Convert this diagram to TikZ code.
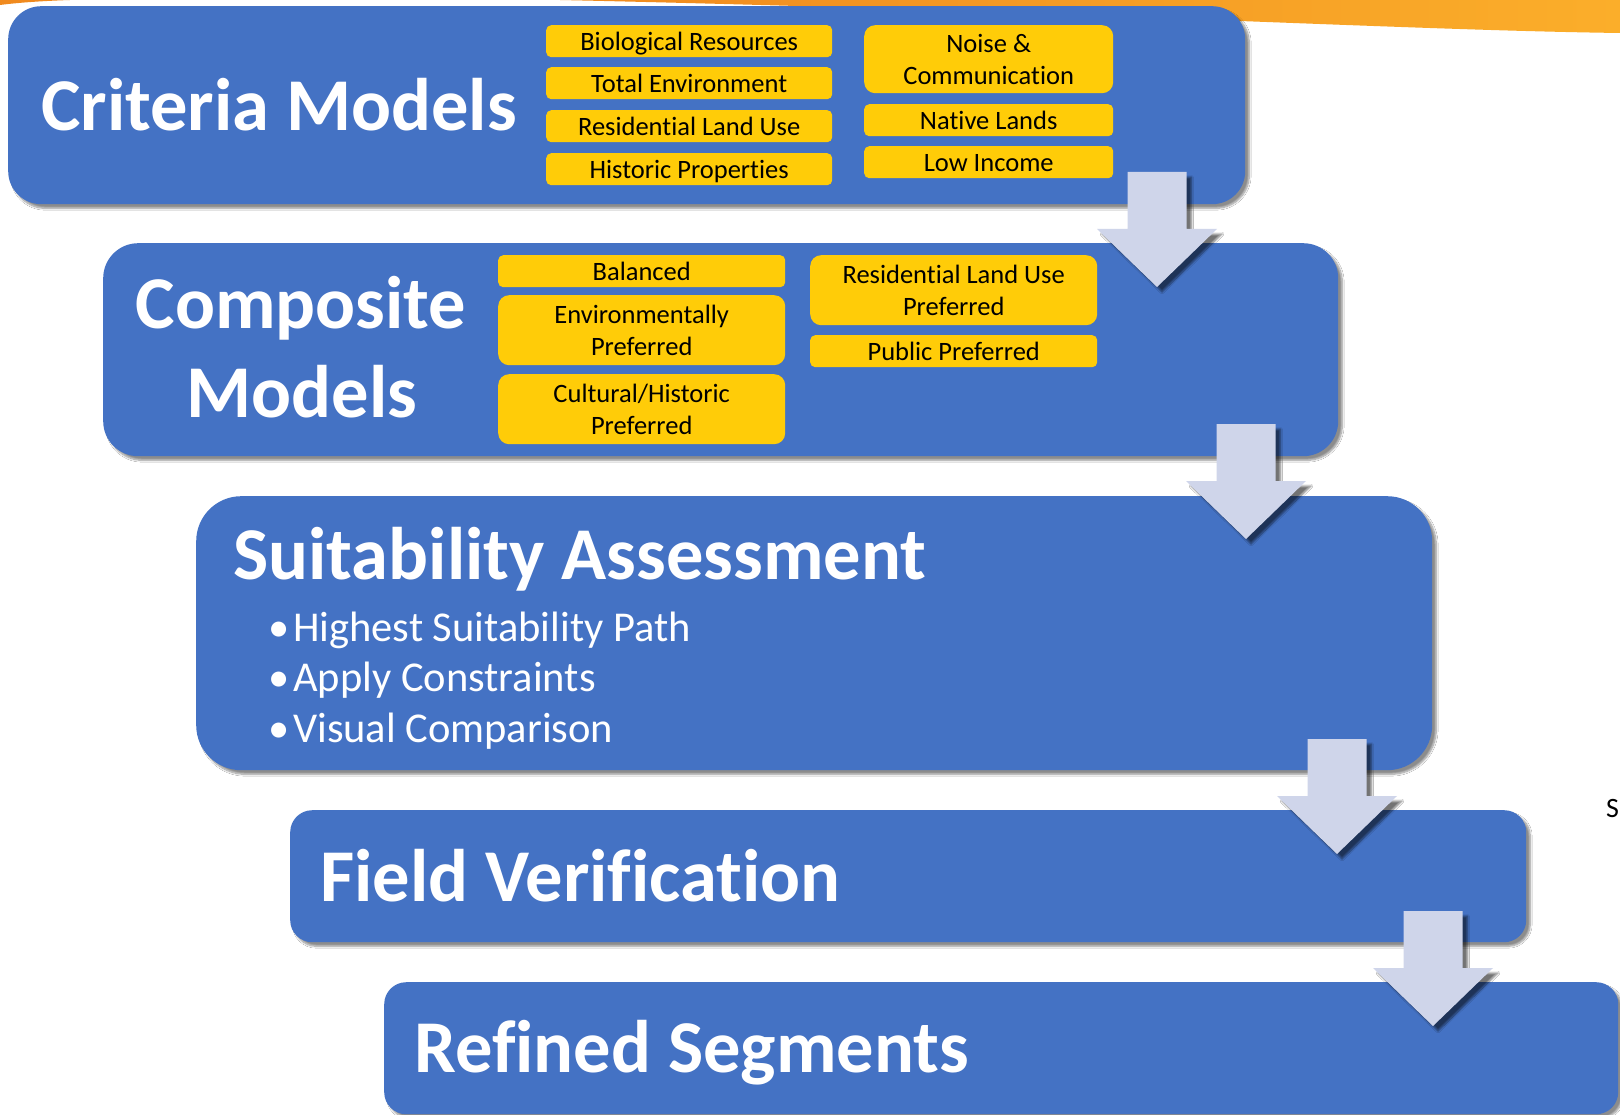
\documentclass[tikz,border=0pt]{standalone}
\usepackage{fontspec}
\setmainfont[Ligatures=NoCommon]{Carlito}
\usetikzlibrary{shadows.blur}
\definecolor{boxblue}{HTML}{4472C4}
\definecolor{yfill}{HTML}{FFCC08}
\definecolor{arrowfill}{HTML}{CFD5EA}
\definecolor{orA}{HTML}{F08A1E}
\definecolor{orB}{HTML}{FBAE2A}
\begin{document}
\begin{tikzpicture}[x=1pt,y=-1pt,
  bigbox/.style={fill=boxblue, draw=none, anchor=north west, inner sep=0pt,
    blur shadow={shadow xshift=4pt, shadow yshift=-4pt, shadow blur steps=8, shadow opacity=45}},
  ybox/.style={fill=yfill, draw=none, anchor=north west, inner sep=0pt, align=center,
    rounded corners=5pt, text=black, font=\fontsize{26.5}{32}\selectfont},
  yone/.style={ybox, text height=21pt, text depth=2pt},
  ytall/.style={ybox, rounded corners=11pt},
  title/.style={text=white, inner sep=0pt, font=\bfseries\fontsize{74.5}{88}\selectfont},
  bullet/.style={text=white, inner sep=0pt, anchor=base west, font=\fontsize{42.5}{50}\selectfont},
  downarrow/.pic={
    \fill[arrowfill, blur shadow={shadow xshift=5pt, shadow yshift=-5pt, shadow blur steps=8, shadow opacity=55}]
      (-29.5,0) -- (29.5,0) -- (29.5,57) -- (60,57) -- (0,115) -- (-60,57) -- (-29.5,57) -- cycle;}
]
\useasboundingbox (0,0) rectangle (1620,1115);
\fill[white] (0,0) rectangle (1620,1115);
% orange swoosh at the top
\shade[left color=orA, right color=orB] (560,0) -- (1620,0) -- (1620,33)
  .. controls (1400,30) and (1100,12) .. (560,0) -- cycle;
\fill[orA] (0,0) -- (70,0) .. controls (40,1) and (15,3) .. (0,5) -- cycle;

% big boxes
\node[bigbox, minimum width=1237pt, minimum height=198pt, rounded corners=33pt] (b1) at (8,6) {};
\node[bigbox, minimum width=1235pt, minimum height=213pt, rounded corners=35pt] (b2) at (103,243) {};
\node[bigbox, minimum width=1236pt, minimum height=274pt, rounded corners=45pt] (b3) at (196,496) {};
\node[bigbox, minimum width=1236pt, minimum height=132pt, rounded corners=22pt] (b4) at (290,810) {};
\node[bigbox, minimum width=1234pt, minimum height=132pt, rounded corners=22pt] (b5) at (384,982) {};

% titles
\node[title, anchor=base west] (t1) at (41,131) {Criteria Models};
\node[title, anchor=base] (t2a) at (301,329) {Composite};
\node[title, anchor=base] (t2b) at (302,417) {Models};
\node[title, anchor=base west] (t3) at (233,579) {Suitability Assessment};
\node[title, anchor=base west] (t4) at (320,901) {Field Verification};
\node[title, anchor=base west] (t5) at (414,1072) {Refined Segments};

% bullets
\node[bullet] (d1) at (268,641) {•};
\node[bullet] (l1) at (293,641) {Highest Suitability Path};
\node[bullet] (d2) at (268,691) {•};
\node[bullet] (l2) at (293,691) {Apply Constraints};
\node[bullet] (d3) at (268,742) {•};
\node[bullet] (l3) at (293,742) {Visual Comparison};

% criteria yellow boxes
\node[yone, minimum width=286pt, minimum height=32pt] (c1) at (546,25) {Biological Resources};
\node[yone, minimum width=286pt, minimum height=32pt] (c2) at (546,67) {Total Environment};
\node[yone, minimum width=286pt, minimum height=32pt] (c3) at (546,110) {Residential Land Use};
\node[yone, minimum width=286pt, minimum height=32pt] (c4) at (546,153) {Historic Properties};
\node[ytall, minimum width=249pt, minimum height=68pt] (c5) at (864,25) {Noise \&\\Communication};
\node[yone, minimum width=249pt, minimum height=32pt] (c6) at (864,104) {Native Lands};
\node[yone, minimum width=249pt, minimum height=32pt] (c7) at (864,146) {Low Income};

% composite yellow boxes
\node[yone, minimum width=287pt, minimum height=32pt] (m1) at (498,255) {Balanced};
\node[ytall, minimum width=287pt, minimum height=70pt] (m2) at (498,295) {Environmentally\\Preferred};
\node[ytall, minimum width=287pt, minimum height=70pt] (m3) at (498,374) {Cultural/Historic\\Preferred};
\node[ytall, minimum width=287pt, minimum height=70pt] (m4) at (810,255) {Residential Land Use\\Preferred};
\node[yone, minimum width=287pt, minimum height=32pt] (m5) at (810,335) {Public Preferred};

% block arrows
\pic (a1) at (1157,172) {downarrow};
\pic (a2) at (1246,424) {downarrow};
\pic (a3) at (1337,739) {downarrow};
\pic (a4) at (1433,911) {downarrow};

% stray letter at right
\node[inner sep=0pt, anchor=base west, font=\fontsize{28}{32}\selectfont] (s) at (1606,817) {S};
\end{tikzpicture}
\end{document}
